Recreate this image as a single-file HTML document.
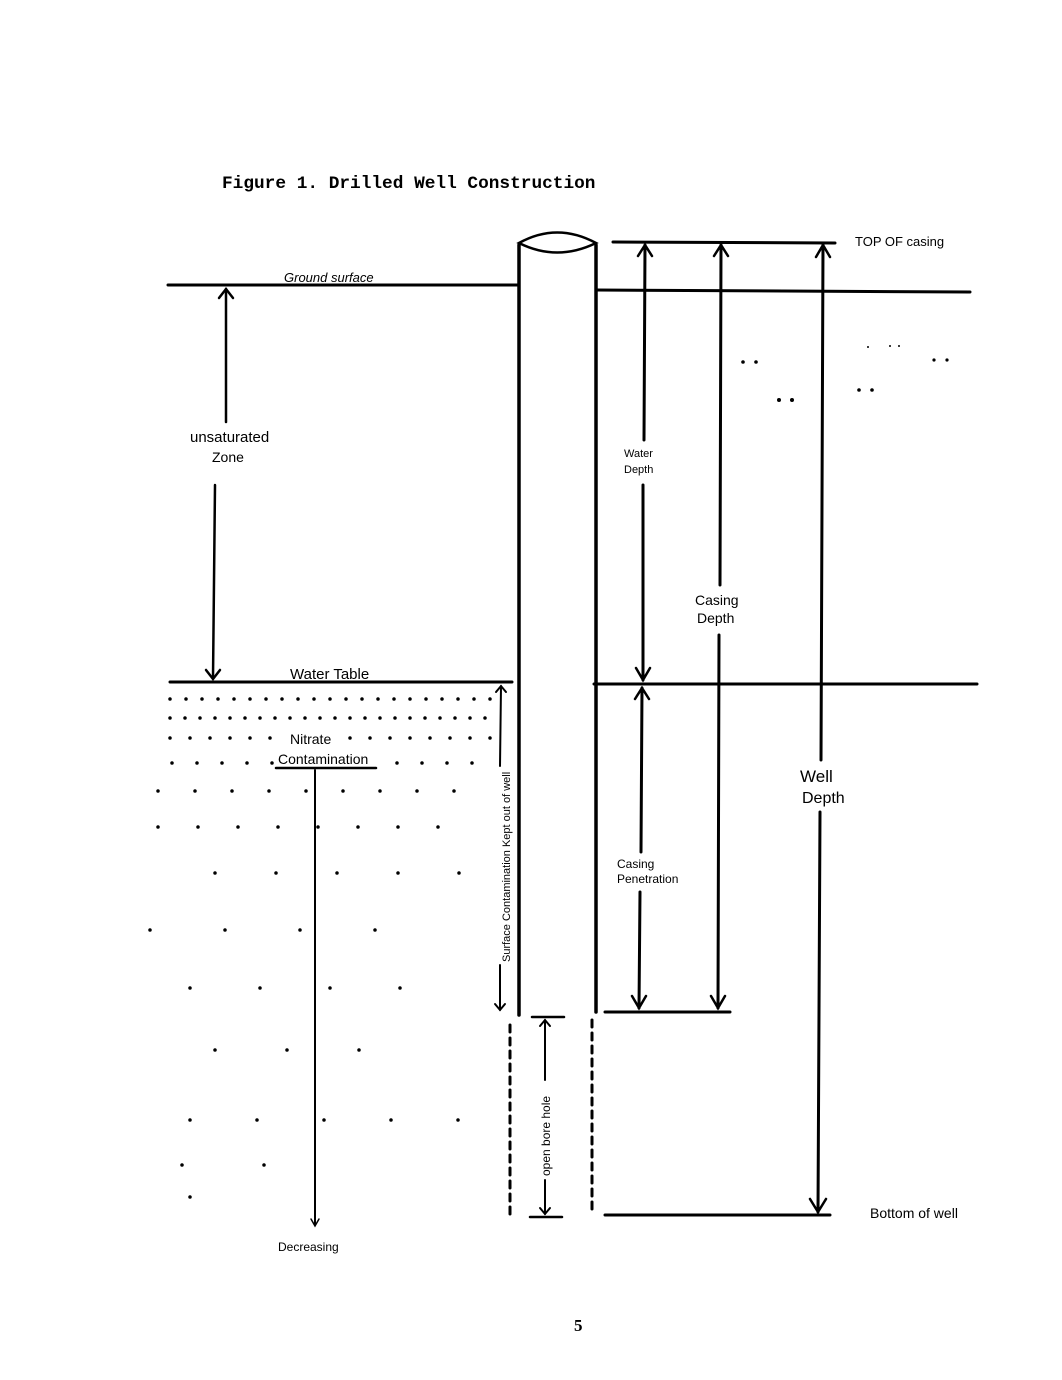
<!DOCTYPE html>
<html><head><meta charset="utf-8"><style>
html,body{margin:0;padding:0;background:#fff;}
svg{display:block;}
text{font-family:"Liberation Sans",sans-serif;fill:#000;}
.h{font-family:"Liberation Sans",sans-serif;font-size:13px;}
</style></head><body>
<svg width="1062" height="1380" viewBox="0 0 1062 1380" xmlns="http://www.w3.org/2000/svg">
<rect width="1062" height="1380" fill="#fff"/>
<text x="222" y="188" style="font-family:'Liberation Mono',monospace;font-weight:bold;font-size:17.8px;">Figure 1.  Drilled Well Construction</text>

<g stroke="#000" fill="none" stroke-linecap="round">
<line x1="519" y1="245" x2="519" y2="1015" stroke-width="3.5"/>
<line x1="596" y1="245" x2="596" y2="1012" stroke-width="3.5"/>
<path d="M519 243 Q557 222 596 243 Q557 262 519 243 Z" stroke-width="2.5"/>
<line x1="510" y1="1025" x2="510" y2="1220" stroke-width="3" stroke-dasharray="7 6"/>
<line x1="592" y1="1020" x2="592" y2="1215" stroke-width="3" stroke-dasharray="7 6"/>
<line x1="168" y1="285" x2="519" y2="285" stroke-width="3"/>
<line x1="596" y1="290" x2="970" y2="292" stroke-width="3"/>
<line x1="613" y1="242" x2="835" y2="243" stroke-width="3"/>
<line x1="170" y1="682" x2="512" y2="682" stroke-width="3"/>
<line x1="594" y1="684" x2="977" y2="684" stroke-width="3"/>
<line x1="605" y1="1012" x2="730" y2="1012" stroke-width="3"/>
<line x1="605" y1="1215" x2="830" y2="1215" stroke-width="3"/>
<line x1="532" y1="1017" x2="564" y2="1017" stroke-width="2.5"/>
<line x1="530" y1="1217" x2="562" y2="1217" stroke-width="2.5"/>

<line x1="226" y1="289" x2="226" y2="422" stroke-width="2.5"/>
<path d="M219 298 L226 289 L233 298" stroke-width="2.5"/>
<line x1="215" y1="485" x2="213" y2="678" stroke-width="2.5"/>
<path d="M206 670 L213 679 L220 670" stroke-width="2.5"/>
<line x1="645" y1="245" x2="644" y2="440" stroke-width="3"/>
<path d="M638 256 L645 245 L652 256" stroke-width="2.5"/>
<line x1="643" y1="485" x2="643" y2="680" stroke-width="3"/>
<path d="M636 668 L643 680 L650 668" stroke-width="2.5"/>
<line x1="721" y1="245" x2="720" y2="585" stroke-width="3"/>
<path d="M714 256 L721 245 L728 256" stroke-width="2.5"/>
<line x1="719" y1="635" x2="718" y2="1008" stroke-width="3"/>
<path d="M711 996 L718 1008 L725 996" stroke-width="2.5"/>
<line x1="823" y1="245" x2="821" y2="760" stroke-width="3"/>
<path d="M816 257 L823 245 L830 257" stroke-width="2.5"/>
<line x1="820" y1="812" x2="818" y2="1212" stroke-width="3"/>
<path d="M810 1199 L818 1212 L826 1199" stroke-width="2.5"/>
<line x1="642" y1="688" x2="641" y2="852" stroke-width="3"/>
<path d="M635 699 L642 688 L649 699" stroke-width="2.5"/>
<line x1="640" y1="892" x2="639" y2="1008" stroke-width="3"/>
<path d="M632 996 L639 1008 L646 996" stroke-width="2.5"/>
<line x1="501" y1="686" x2="500" y2="766" stroke-width="2"/>
<path d="M496 692 L501 686 L506 692" stroke-width="2"/>
<line x1="500" y1="965" x2="500" y2="1010" stroke-width="2"/>
<path d="M495 1004 L500 1010 L505 1004" stroke-width="2"/>
<line x1="545" y1="1020" x2="545" y2="1080" stroke-width="2"/>
<path d="M540 1026 L545 1020 L550 1026" stroke-width="2"/>
<line x1="545" y1="1180" x2="545" y2="1214" stroke-width="2"/>
<path d="M540 1208 L545 1214 L550 1208" stroke-width="2"/>

<g stroke-width="3.5" stroke-dasharray="0 16">
<line x1="170" y1="699" x2="495" y2="699"/>
<line x1="170" y1="718" x2="495" y2="718" stroke-dasharray="0 15"/>
<line x1="170" y1="738" x2="495" y2="738" stroke-dasharray="0 20"/>
<line x1="172" y1="763" x2="495" y2="763" stroke-dasharray="0 25"/>
<line x1="158" y1="791" x2="480" y2="791" stroke-dasharray="0 37"/>
<line x1="158" y1="827" x2="460" y2="827" stroke-dasharray="0 40"/>
<line x1="215" y1="873" x2="460" y2="873" stroke-dasharray="0 61"/>
<line x1="150" y1="930" x2="430" y2="930" stroke-dasharray="0 75"/>
<line x1="190" y1="988" x2="470" y2="988" stroke-dasharray="0 70"/>
<line x1="215" y1="1050" x2="430" y2="1050" stroke-dasharray="0 72"/>
<line x1="190" y1="1120" x2="460" y2="1120" stroke-dasharray="0 67"/>
<line x1="182" y1="1165" x2="345" y2="1165" stroke-dasharray="0 82"/>
<line x1="190" y1="1197" x2="365" y2="1197" stroke-dasharray="0 175"/>
</g>
</g>
<g fill="#000">
<circle cx="743" cy="362" r="1.8"/><circle cx="756" cy="362" r="1.8"/>
<circle cx="779" cy="400" r="2"/><circle cx="792" cy="400" r="2"/>
<circle cx="859" cy="390" r="1.8"/><circle cx="872" cy="390" r="1.8"/>
<circle cx="934" cy="360" r="1.6"/><circle cx="947" cy="360" r="1.6"/>
<circle cx="868" cy="347" r="1"/><circle cx="890" cy="346" r="1"/><circle cx="899" cy="346" r="1"/>
</g>
<rect x="286" y="728" width="50" height="18" fill="#fff"/>
<rect x="276" y="749" width="100" height="17" fill="#fff"/>
<g stroke="#000" fill="none" stroke-linecap="round">
<line x1="276" y1="768" x2="376" y2="768" stroke-width="2.5"/>
<line x1="315" y1="770" x2="315" y2="1225" stroke-width="2"/>
<path d="M311 1219 L315 1226 L319 1219" stroke-width="1.5"/>
</g>

<g class="h">
<text x="284" y="282" style="font-style:italic;">Ground  surface</text>
<text x="855" y="246" style="font-size:13px;">TOP OF casing</text>
<text x="190" y="442" style="font-size:15px;">unsaturated</text>
<text x="212" y="462" style="font-size:14px;">Zone</text>
<text x="290" y="679" style="font-size:15px;">Water Table</text>
<text x="624" y="457" style="font-size:11px;">Water</text>
<text x="624" y="473" style="font-size:11px;">Depth</text>
<text x="695" y="605" style="font-size:14px;">Casing</text>
<text x="697" y="623" style="font-size:14px;">Depth</text>
<text x="800" y="782" style="font-size:17px;">Well</text>
<text x="802" y="803" style="font-size:16px;">Depth</text>
<text x="617" y="868" style="font-size:12px;">Casing</text>
<text x="617" y="883" style="font-size:12px;">Penetration</text>
<text x="290" y="744" style="font-size:14px;">Nitrate</text>
<text x="278" y="764" style="font-size:14px;">Contamination</text>
<text x="278" y="1251" style="font-size:12px;">Decreasing</text>
<text x="870" y="1218" style="font-size:14px;">Bottom of well</text>
<text x="574" y="1331" style="font-family:'Liberation Serif',serif;font-size:17px;font-weight:bold;">5</text>
<text transform="translate(510,962) rotate(-90)" style="font-size:11px;">Surface  Contamination  Kept out of well</text>
<text transform="translate(550,1176) rotate(-90)" style="font-size:12px;">open   bore hole</text>
</g>
</svg>
</body></html>
